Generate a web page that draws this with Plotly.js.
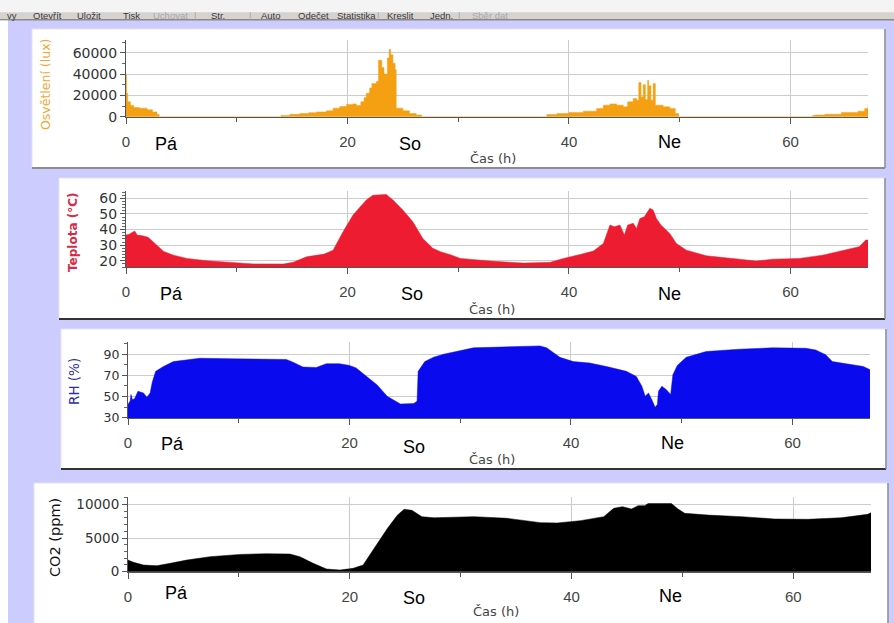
<!DOCTYPE html>
<html>
<head>
<meta charset="utf-8">
<script src="https://cdn.plot.ly/plotly-3.0.1.min.js"></script>
<style>html,body{margin:0;padding:0;background:#CCCCFF;}#chart{width:894px;height:623px;}</style>
</head>
<body>
<div id="chart"></div>
<script>
// ---------------- DATA ----------------
// Illuminance (lux) vs time (h)
const luxTime = [0, 0.05, 0.15, 0.4, 0.7, 1.2, 1.9, 2.4, 2.8, 3.0, 14.0, 14.8, 15.7, 16.5, 17.2, 18.1, 18.7, 19.3, 19.9, 20.5, 20.8, 21.2, 21.5, 21.7, 22.0, 22.2, 22.6, 22.8, 23.1, 23.3, 23.6, 23.76, 23.9, 24.1, 24.3, 24.4, 25.0, 25.6, 26.2, 26.7, 38.0, 38.9, 40.0, 41.3, 42.5, 43.1, 43.7, 44.3, 44.9, 45.3, 45.8, 46.1, 46.3, 46.5, 46.7, 46.9, 47.1, 47.2, 47.4, 47.6, 47.8, 48.5, 49.1, 49.6, 49.9, 62.0, 62.2, 63.1, 64.6, 66.1, 66.7, 67.0];
const luxValues = [39000, 22000, 14000, 10500, 8500, 8000, 6500, 4500, 2000, 0, 1200, 2200, 3000, 3800, 4500, 5500, 8000, 9500, 11500, 12000, 10500, 14000, 18000, 22000, 27000, 31000, 33000, 53000, 46000, 40000, 55000, 63000, 58000, 50000, 44000, 8000, 5500, 3000, 1500, 0, 2000, 3000, 4000, 5200, 7700, 10800, 12000, 10800, 9200, 13900, 17000, 15400, 32000, 18500, 30000, 16000, 34000, 29000, 15400, 31000, 10800, 9200, 7700, 3000, 0, 1000, 1500, 2200, 4000, 5200, 7700, 11700];

// Temperature (°C)
const tempTime = [0, 0.3, 0.5, 0.8, 1.0, 1.5, 2.0, 2.3, 2.8, 3.4, 4.3, 5.5, 7.3, 9.7, 11.5, 14.2, 15.1, 16.3, 17.9, 18.7, 19.6, 20.5, 21.7, 22.3, 23.5, 24.1, 25.0, 25.9, 26.8, 27.7, 28.4, 29.3, 30.2, 32.9, 35.9, 38.3, 39.5, 41.0, 42.2, 43.1, 43.7, 44.1, 44.6, 45.0, 45.3, 45.8, 46.1, 46.4, 46.8, 47.3, 47.6, 47.9, 48.3, 49.1, 49.7, 50.6, 52.4, 55.4, 56.9, 58.4, 60.8, 62.9, 64.4, 66.2, 66.8, 67.0];
const tempValues = [36.5, 37, 38, 39, 36.5, 36, 35, 33, 30, 26, 23.6, 21.5, 20, 18.7, 18, 17.9, 19, 22.5, 24.3, 26.8, 38.6, 49.3, 59, 62, 62.5, 59, 52.5, 45, 34.3, 28, 25.8, 23.8, 21.5, 19.8, 18.5, 19, 21.5, 24, 26.2, 31, 42.9, 41.8, 42.9, 36.5, 42.9, 44, 40.7, 47, 48.2, 53.6, 52.5, 47, 42.9, 37.5, 31, 26.8, 23.2, 21, 19.8, 21, 21.5, 23.6, 26.2, 29, 33.3, 33.3];

// Relative humidity (%)
const rhTime = [0, 0.2, 0.27, 0.4, 0.6, 0.9, 1.4, 1.7, 2.0, 2.2, 2.5, 3.2, 4.1, 5.3, 6.5, 9.5, 12.5, 14.3, 14.9, 15.8, 17.0, 17.9, 19.1, 20.0, 20.6, 21.5, 22.5, 23.4, 24.3, 24.6, 25.8, 26.1, 26.2, 26.8, 27.6, 28.5, 31.2, 34.2, 37.2, 37.8, 39.0, 40.2, 41.7, 43.2, 45.0, 45.9, 46.4, 46.7, 47.0, 47.3, 47.6, 47.8, 47.9, 48.2, 48.6, 49.0, 49.2, 49.6, 50.4, 52.2, 55.2, 58.2, 61.2, 62.1, 63.0, 63.6, 65.4, 66.4, 67.0];
const rhValues = [42.5, 46, 52, 47, 48, 55, 53.4, 49.4, 53.4, 64, 73.8, 78.4, 83, 84.7, 86.2, 85.6, 85.3, 85, 82.5, 77.8, 77.5, 81, 81, 79.4, 77, 69, 61, 50.3, 45, 43, 43.4, 45.6, 73.8, 83, 87.2, 90, 96, 97.2, 97.8, 96, 87, 83, 81.6, 78.4, 73.8, 69, 59.7, 50.3, 53.4, 47, 40, 42.5, 55, 59.7, 56.6, 52, 70.6, 79.4, 87, 92.5, 94.7, 96, 95.6, 94, 89.4, 83, 80, 78.4, 75.3];

// CO2 (ppm)
const co2Time = [0, 0.5, 1.4, 2.6, 3.8, 5.3, 7.4, 10.1, 12.5, 14.6, 15.5, 16.7, 17.9, 19.1, 20.3, 21.2, 22.2, 23.4, 24.3, 24.9, 25.6, 26.5, 27.6, 29.1, 31.2, 34.2, 37.2, 38.7, 40.8, 42.9, 43.8, 44.6, 45.4, 46.0, 46.6, 46.9, 49.0, 49.6, 50.2, 52.3, 55.3, 58.3, 61.3, 64.3, 66.7, 67.0];
const co2Values = [1730, 1390, 990, 890, 1240, 1730, 2230, 2570, 2670, 2620, 2230, 1240, 400, 250, 500, 990, 3470, 6430, 8400, 9250, 9100, 8170, 8000, 8070, 8170, 7920, 7280, 7230, 7570, 8170, 9400, 9650, 9300, 9800, 9800, 10100, 10100, 9300, 8660, 8400, 8170, 7820, 7770, 8000, 8510, 8760];

// Labels
const axisTitles = ['Osvětlení (lux)', 'Teplota (°C)', 'RH (%)', 'CO2 (ppm)'];
const xTitle = 'Čas (h)';
const dayNames = ['Pá', 'So', 'Ne'];
const dayPositions = [[3.7, 25.6, 49.1], [4.1, 25.8, 49.1], [4.0, 25.8, 49.2], [4.4, 25.8, 48.9]];
const toolbarItems = ['vy', 'Otevřít', 'Uložit', 'Tisk', 'Uchovat', '|', 'Str.', '|', 'Auto', 'Odečet', 'Statistika', '|', 'Kreslit', 'Jedn.', '|', 'Sběr dat'];
const toolbarDisabled = ['Uchovat', 'Sběr dat', '|'];

// ---------------- LAYOUT HELPERS ----------------
const W = 894, H = 623;
const fx = px => px / W;
const fy = py => 1 - py / H;

const toolbarX = [12, 47, 89, 131, 170, 195, 218, 250, 271, 313, 356, 378, 400, 441, 459, 490];

const colors = ['#F5A012', '#EE1C30', '#0A0AEE', '#000000'];
const titleColors = ['#F2A733', '#D92A48', '#2E2E9E', '#111111'];

// plot areas (pixels): [x0, x1, yTop, yBottom]
const areas = [[126, 868, 40, 117], [126, 868, 191, 267], [128, 870, 342, 418], [128, 871, 497, 572]];
const yRanges = [[-300, 71900], [16, 64.7], [29.8, 101.5], [-40, 11080]];
const yTick = [{tick0: 0, dtick: 20000, minor: 10000}, {tick0: 0, dtick: 10, minor: 2}, {tick0: 30, dtick: 20, minor: 10}, {tick0: 0, dtick: 5000, minor: 1000}];
const yTickFont = [14, 14, 12.5, 13.5];

const traces = [
  {x: luxTime, y: luxValues, type: 'scatter', mode: 'lines', fill: 'tozeroy', line: {shape: 'hv', width: 0.5, color: colors[0]}, fillcolor: colors[0], xaxis: 'x', yaxis: 'y', hoverinfo: 'skip'},
  {x: tempTime, y: tempValues, type: 'scatter', mode: 'lines', fill: 'tozeroy', line: {width: 0.5, color: colors[1]}, fillcolor: colors[1], xaxis: 'x2', yaxis: 'y2', hoverinfo: 'skip'},
  {x: rhTime, y: rhValues, type: 'scatter', mode: 'lines', fill: 'tozeroy', line: {width: 0.5, color: colors[2]}, fillcolor: colors[2], xaxis: 'x3', yaxis: 'y3', hoverinfo: 'skip'},
  {x: co2Time, y: co2Values, type: 'scatter', mode: 'lines', fill: 'tozeroy', line: {width: 0.5, color: colors[3]}, fillcolor: colors[3], xaxis: 'x4', yaxis: 'y4', hoverinfo: 'skip'}
];

const layout = {
  width: W, height: H,
  margin: {l: 0, r: 0, t: 0, b: 0},
  paper_bgcolor: '#CCCCFF',
  plot_bgcolor: '#FFFFFF',
  showlegend: false,
  shapes: [],
  annotations: []
};

for (let i = 0; i < 4; i++) {
  const s = i === 0 ? '' : String(i + 1);
  const a = areas[i];
  layout['xaxis' + s] = {
    domain: [fx(a[0]), fx(a[1])], anchor: 'y' + s, range: [0, 67.0],
    tick0: 0, dtick: 20, ticks: 'outside', ticklen: 6, tickcolor: '#555', tickwidth: 1,
    minor: {dtick: 10, ticks: 'outside', ticklen: 4, tickcolor: '#555', showgrid: false},
    showgrid: true, gridcolor: '#CCCCCC', gridwidth: 1, zeroline: false,
    showline: true, linecolor: '#555', linewidth: 1,
    tickfont: {family: 'Liberation Sans, Arial, sans-serif', size: 15, color: '#444'},
    ticklabelstandoff: 5, fixedrange: true
  };
  layout['yaxis' + s] = {
    domain: [fy(a[3]), fy(a[2])], anchor: 'x' + s, range: yRanges[i],
    tick0: yTick[i].tick0, dtick: yTick[i].dtick, tickformat: 'd', ticks: 'outside', ticklen: 5, tickcolor: '#555', tickwidth: 1,
    minor: {tick0: yTick[i].tick0, dtick: yTick[i].minor, ticks: 'outside', ticklen: 3, tickcolor: '#666', showgrid: false},
    showgrid: true, gridcolor: '#CCCCCC', gridwidth: 1, zeroline: false,
    showline: true, linecolor: '#555', linewidth: 1,
    tickfont: {family: 'DejaVu Sans, sans-serif', size: yTickFont[i], color: '#333'},
    ticklabelstandoff: 0, fixedrange: true
  };
  // frame around plot area
  layout.shapes.push({type: 'rect', xref: 'x' + s + ' domain', yref: 'y' + s + ' domain', x0: 0, x1: 1, y0: 0, y1: 1, line: {color: '#9A9A9A', width: 1}, layer: 'below'});
}

// toolbar
layout.shapes.push({type: 'rect', xref: 'paper', yref: 'paper', x0: 0, x1: 1, y0: fy(12.5), y1: 1, fillcolor: '#F4F4F4', line: {width: 0}, layer: 'below'});
layout.shapes.push({type: 'rect', xref: 'paper', yref: 'paper', x0: 0, x1: 1, y0: fy(19), y1: fy(12.5), fillcolor: '#D6D3CC', line: {width: 0}, layer: 'below'});
layout.shapes.push({type: 'rect', xref: 'paper', yref: 'paper', x0: 0, x1: 1, y0: fy(20.5), y1: fy(19), fillcolor: '#8A8A8A', line: {width: 0}, layer: 'below'});
// left white strip
layout.shapes.push({type: 'rect', xref: 'paper', yref: 'paper', x0: 0, x1: fx(8), y0: 0, y1: fy(20.5), fillcolor: '#FFFFFF', line: {width: 0}, layer: 'below'});

// white panels
const panels = [[32, 885, 29, 168, '#8C8C8C'], [59, 885, 178, 319, '#333333'], [61, 886, 329, 469, '#333333'], [34, 888, 483, 626, '#555555']];
panels.forEach(p => {
  layout.shapes.push({type: 'rect', xref: 'paper', yref: 'paper', x0: fx(p[0]), x1: fx(p[1]), y0: fy(p[3]), y1: fy(p[2]), fillcolor: '#FFFFFF', line: {color: '#E2E2EE', width: 1}, layer: 'below'});
  layout.shapes.push({type: 'line', xref: 'paper', yref: 'paper', x0: fx(p[0]), x1: fx(p[1]), y0: fy(p[3]), y1: fy(p[3]), line: {color: p[4], width: 2}, layer: 'below'});
  layout.shapes.push({type: 'line', xref: 'paper', yref: 'paper', x0: fx(p[1]), x1: fx(p[1]), y0: fy(p[3]), y1: fy(p[2]), line: {color: '#8C8C8C', width: 1.5}, layer: 'below'});
});

// toolbar texts
toolbarItems.forEach((t, i) => {
  layout.annotations.push({text: t, xref: 'paper', yref: 'paper', x: fx(toolbarX[i]), y: fy(15.5), xanchor: 'center', yanchor: 'middle', showarrow: false,
    font: {family: 'Liberation Sans, Arial, sans-serif', size: 9.5, color: toolbarDisabled.includes(t) ? '#A8A8A8' : '#3A3A3A'}});
});

// y-axis titles
const yTitlePos = [[46, 85], [73, 233], [74, 382], [55, 538]];
const yTitleFont = [{size: 12.5, weight: 'normal'}, {size: 12, weight: 'bold'}, {size: 13.5, weight: 'normal'}, {size: 14.5, weight: 'normal'}];
axisTitles.forEach((t, i) => {
  layout.annotations.push({text: t, xref: 'paper', yref: 'paper', x: fx(yTitlePos[i][0]), y: fy(yTitlePos[i][1]), xanchor: 'center', yanchor: 'middle', textangle: -90, showarrow: false,
    font: {family: 'DejaVu Sans, sans-serif', size: yTitleFont[i].size, weight: yTitleFont[i].weight, color: titleColors[i]}});
});

// x-axis titles
const xTitlePos = [[493, 158], [492, 309], [492, 460], [496, 611]];
xTitlePos.forEach(p => {
  layout.annotations.push({text: xTitle, xref: 'paper', yref: 'paper', x: fx(p[0]), y: fy(p[1]), xanchor: 'center', yanchor: 'middle', showarrow: false,
    font: {family: 'DejaVu Sans, sans-serif', size: 13, color: '#444'}});
});

// day labels
const dayY = [[144, 144, 142], [294, 294, 294], [444, 447, 443], [593, 598, 596]];
for (let i = 0; i < 4; i++) {
  const s = i === 0 ? '' : String(i + 1);
  dayNames.forEach((d, j) => {
    layout.annotations.push({text: d, xref: 'x' + s, yref: 'paper', x: dayPositions[i][j], y: fy(dayY[i][j]), xanchor: 'center', yanchor: 'middle', showarrow: false,
      font: {family: 'Liberation Sans, Arial, sans-serif', size: 18, color: '#000'}});
  });
}

Plotly.newPlot('chart', traces, layout, {displayModeBar: false, staticPlot: true});
</script>
</body>
</html>
